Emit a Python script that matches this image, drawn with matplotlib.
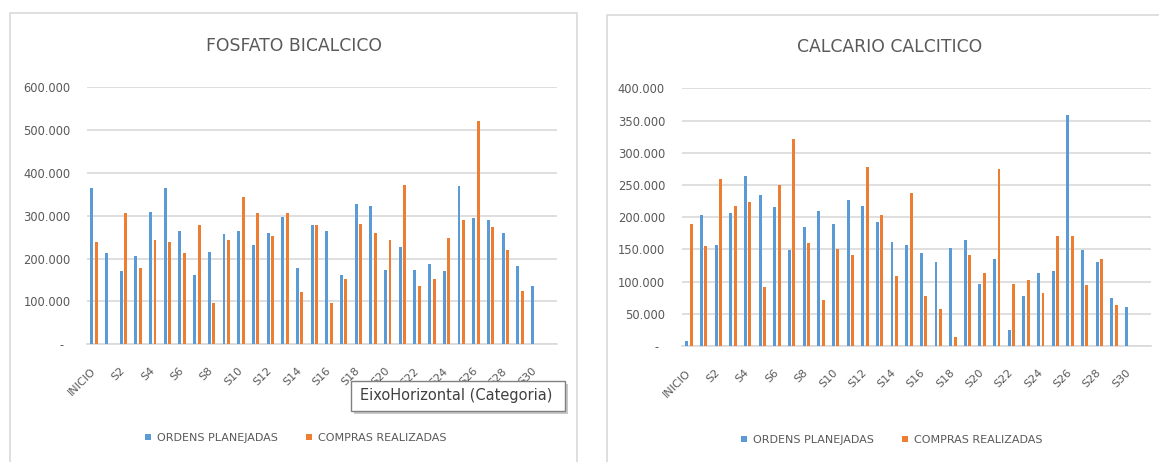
import matplotlib
matplotlib.use('Agg')
import matplotlib.pyplot as plt
from matplotlib import font_manager, transforms
from matplotlib.patches import Rectangle
from matplotlib.lines import Line2D
import numpy as np

# ---------------- data ----------------
categories = ['INICIO', 'S1', 'S2', 'S3', 'S4', 'S5', 'S6', 'S7', 'S8', 'S9', 'S10',
              'S11', 'S12', 'S13', 'S14', 'S15', 'S16', 'S17', 'S18', 'S19', 'S20',
              'S21', 'S22', 'S23', 'S24', 'S25', 'S26', 'S27', 'S28', 'S29', 'S30', 'S31']
series_names = ['ORDENS PLANEJADAS', 'COMPRAS REALIZADAS']

fosfato_ordens = [364000, 212000, 170000, 207000, 310000, 364000, 265000, 162000, 216000, 257000,
                  265000, 232000, 261000, 298000, 178000, 278000, 265000, 162000, 328000, 323000,
                  174000, 228000, 174000, 187000, 170000, 369000, 294000, 290000, 261000, 182000,
                  137000, 0]
fosfato_compras = [240000, 0, 306000, 178000, 244000, 240000, 212000, 278000, 96000, 244000,
                   344000, 306000, 253000, 306000, 121000, 278000, 96000, 153000, 282000, 261000,
                   244000, 373000, 137000, 153000, 248000, 290000, 522000, 273000, 219000, 125000,
                   0, 0]

calcario_ordens = [8000, 204000, 157000, 206000, 264000, 234000, 215000, 149000, 185000, 209000,
                   190000, 226000, 218000, 193000, 162000, 157000, 144000, 130000, 152000, 165000,
                   97000, 135000, 25000, 77000, 113000, 116000, 358000, 149000, 130000, 75000,
                   61000, 0]
calcario_compras = [190000, 155000, 259000, 218000, 223000, 91000, 250000, 322000, 160000, 72000,
                    151000, 141000, 278000, 204000, 108000, 237000, 77000, 58000, 14000, 141000,
                    113000, 275000, 97000, 102000, 83000, 171000, 171000, 94000, 135000, 64000,
                    0, 0]

titles = ['FOSFATO BICALCICO', 'CALCARIO CALCITICO']
tooltip_text = 'EixoHorizontal (Categoria)'

BLUE = '#5B9BD5'
ORANGE = '#ED7D31'
GRID = '#D9D9D9'
TXT = '#595959'

W, H = 1159, 462
fig = plt.figure(figsize=(W / 100, H / 100), dpi=100)
fig.patch.set_facecolor('white')

available = {f.name for f in font_manager.fontManager.ttflist}
if 'Liberation Sans Narrow' in available:
    title_font, title_size = 'Liberation Sans Narrow', 14.5
else:
    title_font, title_size = 'DejaVu Sans', 12.4


def fx(px):
    return px / W


def fy(py):
    return 1 - py / H


def draw(rect, blue, orange, ymax, ystep, ypad, zero_off, title, title_xy, legend_xy):
    l, t, r, b = rect
    ax = fig.add_axes([fx(l), fy(b), (r - l) / W, (b - t) / H])
    x = np.arange(len(categories))
    ax.bar(x - 0.15, blue, 0.2, color=BLUE, label=series_names[0], zorder=3)
    ax.bar(x + 0.15, orange, 0.2, color=ORANGE, label=series_names[1], zorder=3)
    ax.set_xlim(-0.5, len(categories) - 0.5)
    ax.set_ylim(0, ymax)
    yt = np.arange(0, ymax + 1, ystep)
    ax.set_yticks(yt)
    ax.set_yticklabels(['' if v == 0 else f'{int(v):,}'.replace(',', '.') for v in yt])
    ax.grid(axis='y', color=GRID, lw=1.2, zorder=0)
    for s in ['top', 'right', 'left']:
        ax.spines[s].set_visible(False)
    ax.spines['bottom'].set_color(GRID)
    ax.spines['bottom'].set_linewidth(1.2)
    ax.tick_params(axis='both', length=0, colors=TXT, labelsize=8.3)
    ax.tick_params(axis='y', pad=ypad)
    ax.tick_params(axis='x', pad=18, labelsize=8)
    ax.set_xticks(x[::2])
    ax.set_xticklabels(categories[::2])
    plt.setp(ax.get_xticklabels(), rotation=45, ha='right', va='center',
             rotation_mode='anchor')
    trans = transforms.blended_transform_factory(ax.transAxes, ax.transData) + \
        transforms.ScaledTranslation(-zero_off / 100, -1.5 / 100, fig.dpi_scale_trans)
    ax.text(0, 0, '-', transform=trans, ha='center', va='center', color=TXT, fontsize=8.3)
    fig.text(fx(title_xy[0]), fy(title_xy[1]), title, ha='center', va='center',
             fontsize=title_size, family=title_font, color=TXT)
    h, lb = ax.get_legend_handles_labels()
    fig.legend(h, lb, loc='center', bbox_to_anchor=(fx(legend_xy[0]), fy(legend_xy[1])),
               ncol=2, frameon=False, fontsize=8, labelcolor=TXT,
               handlelength=0.55, handleheight=0.55, handletextpad=0.55,
               columnspacing=2.5, borderaxespad=0, borderpad=0)
    return ax


draw((86.7, 87.3, 556.7, 344.3), fosfato_ordens, fosfato_compras, 600000, 100000,
     11.5, 25, titles[0], (294, 46), (296, 438))
draw((681.7, 88.3, 1150.7, 346.0), calcario_ordens, calcario_compras, 400000, 50000,
     12, 25, titles[1], (890, 47), (892, 440))

# panel borders
border_kw = dict(color=GRID, lw=1.2, transform=fig.transFigure)
fig.add_artist(Line2D([fx(10), fx(10), fx(577), fx(577)], [fy(462), fy(13), fy(13), fy(462)], **border_kw))
fig.add_artist(Line2D([fx(607), fx(607), fx(1159)], [fy(462), fy(15), fy(15)], **border_kw))

# tooltip
tx0, ty0, tx1, ty1 = 351, 380.5, 565, 411
fig.add_artist(Rectangle((fx(tx0 + 3), fy(ty1 + 3)), (tx1 - tx0) / W, (ty1 - ty0) / H,
                         transform=fig.transFigure, facecolor='#C8C8C8', edgecolor='none',
                         zorder=10))
fig.add_artist(Rectangle((fx(tx0), fy(ty1)), (tx1 - tx0) / W, (ty1 - ty0) / H,
                         transform=fig.transFigure, facecolor='white', edgecolor='#808080',
                         lw=1, zorder=11))
fig.text(fx(tx0 + 9), fy((ty0 + ty1) / 2), tooltip_text, ha='left', va='center',
         fontsize=10.5, color='#404040', zorder=12)

fig.savefig('out.png', dpi=100, facecolor='white')
